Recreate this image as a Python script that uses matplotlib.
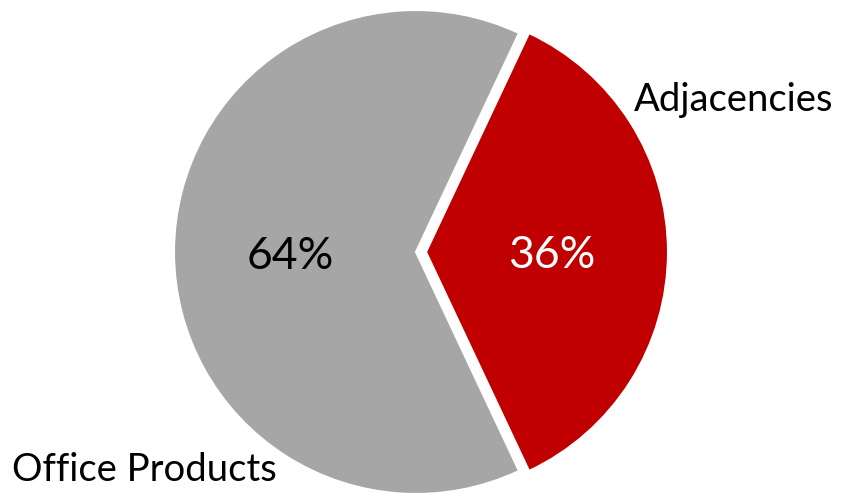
import matplotlib.pyplot as plt

# data
labels = ["Office Products", "Adjacencies"]
shares = [64, 36]
colors = ["#A6A6A6", "#C00000"]
pct_colors = ["black", "white"]

plt.rcParams['font.family'] = ['Lato', 'DejaVu Sans']

fig = plt.figure(figsize=(8.43, 4.97), dpi=100)
ax = fig.add_axes([0, 0, 1, 1])

# pie drawn in pixel units; explode offset is in the same units
wedges, texts, autotexts = ax.pie(
    shares, colors=colors, startangle=64.8, counterclock=True,
    explode=[0, 10], radius=242, center=(416, 245),
    autopct='%1.0f%%', pctdistance=0.52,
    wedgeprops=dict(edgecolor='white', linewidth=1.5),
    textprops=dict(fontsize=32))
for t, c in zip(autotexts, pct_colors):
    t.set_color(c)
    x, y = t.get_position()
    t.set_position((x, y - 4))

ax.set_xlim(0, 843)
ax.set_ylim(0, 497)
ax.set_aspect('equal')
ax.axis('off')

# category labels sit outside the pie
ax.text(12, 27, labels[0], fontsize=27.5, ha='left', va='center')
ax.text(634, 397, labels[1], fontsize=27.5, ha='left', va='center')

fig.savefig("out.png", dpi=100)
